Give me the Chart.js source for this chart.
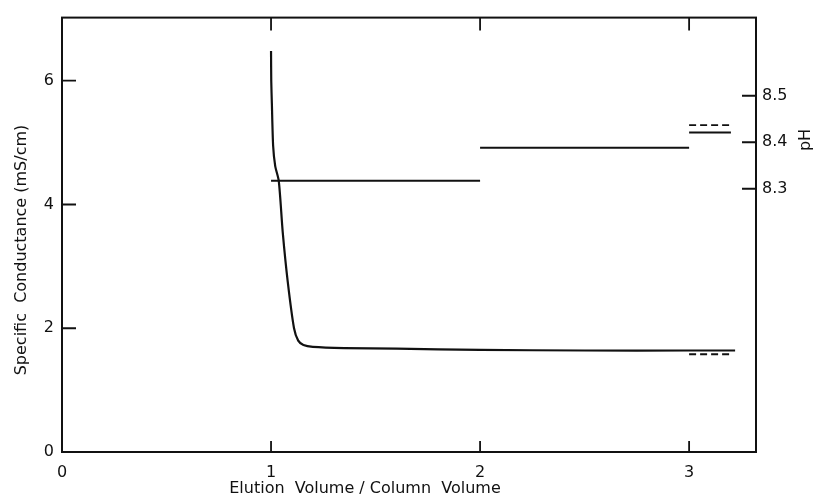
<!DOCTYPE html>
<html>
<head>
<meta charset="utf-8">
<script src="https://cdn.jsdelivr.net/npm/chart.js@4"></script>
<style>
  body { margin: 0; background: #fff; }
  #wrap { width: 819px; height: 499px; }
</style>
</head>
<body>
<div id="wrap"><canvas id="myChart" width="819" height="499"></canvas></div>
<script>
// conductance trace (left axis, mS/cm)
const condX = [1.0, 1.001, 1.004, 1.01, 1.02, 1.037, 1.056, 1.08, 1.11, 1.13, 1.155, 1.2, 1.35, 1.6, 2.0, 2.5, 3.0, 3.22];
const condY = [6.48, 6.0, 5.63, 4.95, 4.62, 4.38, 3.55, 2.75, 2.0, 1.8, 1.73, 1.70, 1.68, 1.67, 1.65, 1.64, 1.64, 1.64];
// dashed conductance step after 3 column volumes
const condDashX = [3.0, 3.2];
const condDashY = [1.58, 1.58];

// pH plateaus (right axis)
const phStepsX = [[1.0, 2.0], [2.0, 3.0], [3.0, 3.2]];
const phStepsY = [8.317, 8.388, 8.421];
const phDashX = [3.0, 3.2];
const phDashY = 8.437;

const xTicks = [0, 1, 2, 3];
const yTicks = [0, 2, 4, 6];
const phTicks = [8.3, 8.4, 8.5];

const ink = '#111';
const pts = (xs, ys) => xs.map((x, i) => ({ x: x, y: Array.isArray(ys) ? ys[i] : ys }));

const datasets = [{
    data: pts(condX, condY),
    yAxisID: 'y',
    borderColor: ink,
    borderWidth: 2.2,
    pointRadius: 0,
    tension: 0.25
}, {
    data: pts(condDashX, condDashY),
    yAxisID: 'y',
    borderColor: ink,
    borderWidth: 1.8,
    borderDash: [7, 4],
    pointRadius: 0
}];

phStepsX.forEach((xs, i) => {
    datasets.push({
        data: pts(xs, phStepsY[i]),
        yAxisID: 'y2',
        borderColor: ink,
        borderWidth: 2,
        pointRadius: 0
    });
});
datasets.push({
    data: pts(phDashX, phDashY),
    yAxisID: 'y2',
    borderColor: ink,
    borderWidth: 1.8,
    borderDash: [7, 4],
    pointRadius: 0
});

// frame, inward tick marks and axis titles
const framePlugin = {
    id: 'frame',
    afterDraw(chart) {
        const { ctx, chartArea: a, scales } = chart;
        ctx.save();
        ctx.strokeStyle = ink;
        ctx.lineWidth = 2;
        ctx.strokeRect(a.left, a.top, a.right - a.left, a.bottom - a.top);

        ctx.lineWidth = 1.8;
        ctx.beginPath();
        xTicks.slice(1).forEach(v => {
            const px = scales.x.getPixelForValue(v);
            ctx.moveTo(px, a.bottom); ctx.lineTo(px, a.bottom - 11);
            ctx.moveTo(px, a.top); ctx.lineTo(px, a.top + 13);
        });
        yTicks.slice(1).forEach(v => {
            const py = scales.y.getPixelForValue(v);
            ctx.moveTo(a.left, py); ctx.lineTo(a.left + 14, py);
        });
        phTicks.forEach(v => {
            const py = scales.y2.getPixelForValue(v);
            ctx.moveTo(a.right, py); ctx.lineTo(a.right - 14, py);
        });
        ctx.stroke();

        ctx.fillStyle = ink;
        ctx.font = '16px "DejaVu Sans"';
        ctx.textAlign = 'center';
        ctx.textBaseline = 'middle';
        ctx.fillText('Elution  Volume / Column  Volume', 365, 489);

        ctx.save();
        ctx.translate(22, 250);
        ctx.rotate(-Math.PI / 2);
        ctx.fillText('Specific  Conductance (mS/cm)', 0, 0);
        ctx.restore();

        ctx.save();
        ctx.translate(806, 140);
        ctx.rotate(-Math.PI / 2);
        ctx.fillText('pH', 0, 0);
        ctx.restore();
        ctx.restore();
    }
};

const tickFont = { family: 'DejaVu Sans', size: 16 };

new Chart(document.getElementById('myChart'), {
    type: 'line',
    data: { datasets: datasets },
    options: {
        responsive: false,
        animation: false,
        layout: { padding: { top: 13 } },
        plugins: { legend: { display: false }, tooltip: { enabled: false } },
        scales: {
            x: {
                type: 'linear',
                min: 0,
                max: 3.32,
                afterBuildTicks: s => { s.ticks = xTicks.map(v => ({ value: v })); },
                afterFit: s => { s.height = 47; },
                grid: { display: false, drawTicks: false },
                border: { display: false },
                ticks: { color: ink, font: tickFont, padding: 11, maxRotation: 0 }
            },
            y: {
                type: 'linear',
                position: 'left',
                min: 0,
                max: 7.02,
                afterBuildTicks: s => { s.ticks = yTicks.map(v => ({ value: v })); },
                afterFit: s => { s.width = 62; },
                grid: { display: false, drawTicks: false },
                border: { display: false },
                ticks: { color: ink, font: tickFont, padding: 8 }
            },
            y2: {
                type: 'linear',
                position: 'right',
                min: 7.734,
                max: 8.668,
                afterBuildTicks: s => { s.ticks = phTicks.map(v => ({ value: v })); },
                afterFit: s => { s.width = 63; },
                grid: { display: false, drawTicks: false },
                border: { display: false },
                ticks: { color: ink, font: tickFont, padding: 6, callback: v => v.toFixed(1) }
            }
        }
    },
    plugins: [framePlugin]
});
</script>
</body>
</html>
